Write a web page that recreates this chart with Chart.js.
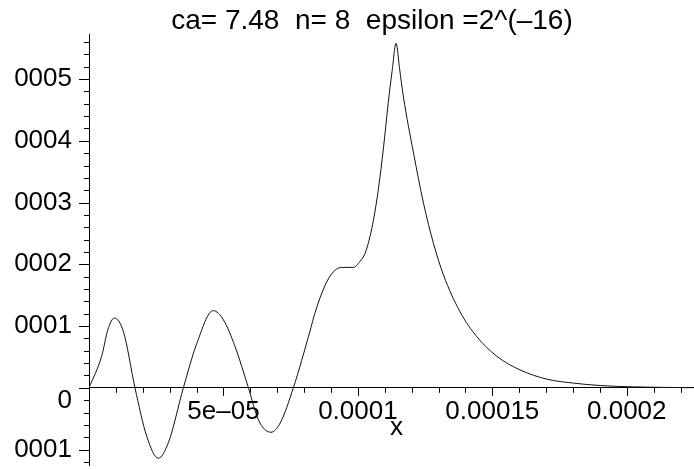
<!DOCTYPE html>
<html>
<head>
<meta charset="utf-8">
<script src="https://cdn.jsdelivr.net/npm/chart.js@4.4.0/dist/chart.umd.min.js"></script>
<style>
  html, body { margin: 0; padding: 0; background: #fff; overflow: hidden; width: 694px; height: 469px; }
  /* maple clips its left labels a bit in from the edge, so the canvas starts at 12px */
  #wrap { position: absolute; left: 12px; top: 0; width: 682px; height: 469px; }
  #title {
    position: absolute; left: 0; top: 6px; width: 744px;
    text-align: center; white-space: pre;
    font: 28px/28px 'Liberation Sans', Arial, sans-serif; color: #000;
  }
</style>
</head>
<body>
<div id="wrap"><canvas id="plot" width="682" height="469"></canvas></div>
<div id="title"></div>
<script>
const titleText = 'ca= 7.48  n= 8  epsilon =2^(–16)';
const xAxisName = 'x';

// curve
const xValues = [
  0, 0.47e-5, 0.70e-5, 0.94e-5, 1.28e-5, 1.71e-5, 2.15e-5, 2.58e-5, 2.95e-5, 3.51e-5,
  4.01e-5, 4.62e-5, 5.00e-5, 5.43e-5, 5.93e-5, 6.30e-5, 6.77e-5, 7.11e-5, 7.60e-5, 8.22e-5,
  8.41e-5, 8.78e-5, 9.09e-5, 9.40e-5, 9.83e-5, 10.08e-5, 10.27e-5, 10.45e-5, 10.58e-5, 10.76e-5,
  10.95e-5, 11.13e-5, 11.27e-5, 11.42e-5, 11.55e-5, 11.69e-5, 12.07e-5, 12.44e-5, 12.81e-5, 13.18e-5,
  13.80e-5, 14.42e-5, 15.17e-5, 16.03e-5, 17.03e-5, 18.02e-5, 19.01e-5, 20.25e-5, 22.47e-5
];
const yValues = [
  0, 0.51e-4, 0.94e-4, 1.13e-4, 0.91e-4, 0, -0.79e-4, -1.14e-4, -0.89e-4, 0,
  0.72e-4, 1.25e-4, 1.10e-4, 0.67e-4, 0, -0.52e-4, -0.72e-4, -0.57e-4, 0, 0.92e-4,
  1.22e-4, 1.66e-4, 1.88e-4, 1.95e-4, 1.95e-4, 2.05e-4, 2.18e-4, 2.45e-4, 2.72e-4, 3.21e-4,
  3.88e-4, 4.62e-4, 5.12e-4, 5.58e-4, 5.17e-4, 4.72e-4, 3.80e-4, 2.99e-4, 2.34e-4, 1.83e-4,
  1.23e-4, 0.83e-4, 0.51e-4, 0.29e-4, 0.14e-4, 0.076e-4, 0.037e-4, 0.015e-4, 0.002e-4
];

const xTickValues = [0.00005, 0.0001, 0.00015, 0.0002];
const xTickLabels = ['5e–05', '0.0001', '0.00015', '0.0002'];
const yTickValues = [-0.0001, 0, 0.0001, 0.0002, 0.0003, 0.0004, 0.0005];
const yTickLabels = ['–0.0001', '0', '0.0001', '0.0002', '0.0003', '0.0004', '0.0005'];
const xMinorStep = 0.00001;
const yMinorStep = 0.00002;

const FONT = "'Liberation Sans', Arial, sans-serif";
Chart.defaults.font.family = FONT;
Chart.defaults.color = '#000';

document.getElementById('title').textContent = titleText;

function findLabel(values, labels, v) {
  const i = values.findIndex(t => Math.abs(t - v) < 1e-12);
  return i < 0 ? null : labels[i];
}

function stepsIn(scale, step) {
  const out = [];
  for (let k = Math.ceil(scale.min / step - 1e-9); k * step <= scale.max + 1e-12; k++) out.push(k * step);
  return out;
}

// no room kept for the end labels, the plot runs edge to edge like maple
function noEdgePadding(scale) {
  scale.paddingTop = 0;
  scale.paddingBottom = 0;
  scale.paddingLeft = 0;
  scale.paddingRight = 0;
}

// maple style ticks: long on labelled values, short in between
const tickMarks = {
  id: 'tickMarks',
  afterDraw(chart) {
    const { ctx, scales: { x, y } } = chart;
    const y0 = y.getPixelForValue(0);
    const x0 = x.getPixelForValue(0);
    ctx.save();
    ctx.strokeStyle = '#000';
    ctx.lineWidth = 1;
    ctx.beginPath();
    stepsIn(x, xMinorStep).forEach(v => {
      const px = Math.round(x.getPixelForValue(v)) + 0.5;
      const len = findLabel(xTickValues, xTickLabels, v) !== null ? 8 : 5;
      ctx.moveTo(px, y0);
      ctx.lineTo(px, y0 + len);
    });
    stepsIn(y, yMinorStep).forEach(v => {
      const py = Math.round(y.getPixelForValue(v)) + 0.5;
      const len = findLabel(yTickValues, yTickLabels, v) !== null ? 10 : 5;
      ctx.moveTo(x0 - len, py);
      ctx.lineTo(x0, py);
    });
    ctx.stroke();

    ctx.font = '26px ' + FONT;
    ctx.fillStyle = '#000';
    ctx.textAlign = 'center';
    ctx.textBaseline = 'alphabetic';
    ctx.fillText(xAxisName, (x.left + x.right) / 2 + 5, y0 + 47);
    ctx.restore();
  }
};

const points = xValues.map((v, i) => ({ x: v, y: yValues[i] }));

new Chart(document.getElementById('plot'), {
  type: 'scatter',
  data: {
    datasets: [{
      data: points,
      showLine: true,
      borderColor: '#111',
      borderWidth: 1,
      pointRadius: 0,
      cubicInterpolationMode: 'monotone'
    }]
  },
  options: {
    responsive: false,
    animation: false,
    layout: { padding: { left: 0, right: 0, top: 34, bottom: 4 } },
    plugins: {
      legend: { display: false },
      tooltip: { enabled: false },
      title: { display: false }
    },
    scales: {
      x: {
        type: 'linear',
        position: { y: 0 },
        min: 0,
        max: 0.000225,
        grid: { display: false, drawTicks: true, tickLength: 11 },
        border: { display: true, color: '#000', width: 1 },
        afterFit: noEdgePadding,
        ticks: {
          stepSize: xMinorStep,
          includeBounds: false,
          autoSkip: false,
          maxRotation: 0,
          padding: 0,
          font: { size: 26, lineHeight: 1 },
          callback: v => findLabel(xTickValues, xTickLabels, v)
        }
      },
      y: {
        type: 'linear',
        position: 'left',
        min: -0.000125,
        max: 0.000573,
        grid: { display: false, drawTicks: true, tickLength: 17 },
        border: { display: true, color: '#000', width: 1 },
        afterFit: scale => {
          scale.width = 77;
          noEdgePadding(scale);
        },
        ticks: {
          stepSize: yMinorStep,
          includeBounds: false,
          autoSkip: false,
          padding: 0,
          font: { size: 26, lineHeight: 1 },
          callback: v => {
            const label = findLabel(yTickValues, yTickLabels, v);
            if (label === null) return null;
            // the zero label sits under the x axis, as maple does it
            return Math.abs(v) < 1e-12 ? ['', label] : label;
          }
        }
      }
    }
  },
  plugins: [tickMarks]
});
</script>
</body>
</html>
